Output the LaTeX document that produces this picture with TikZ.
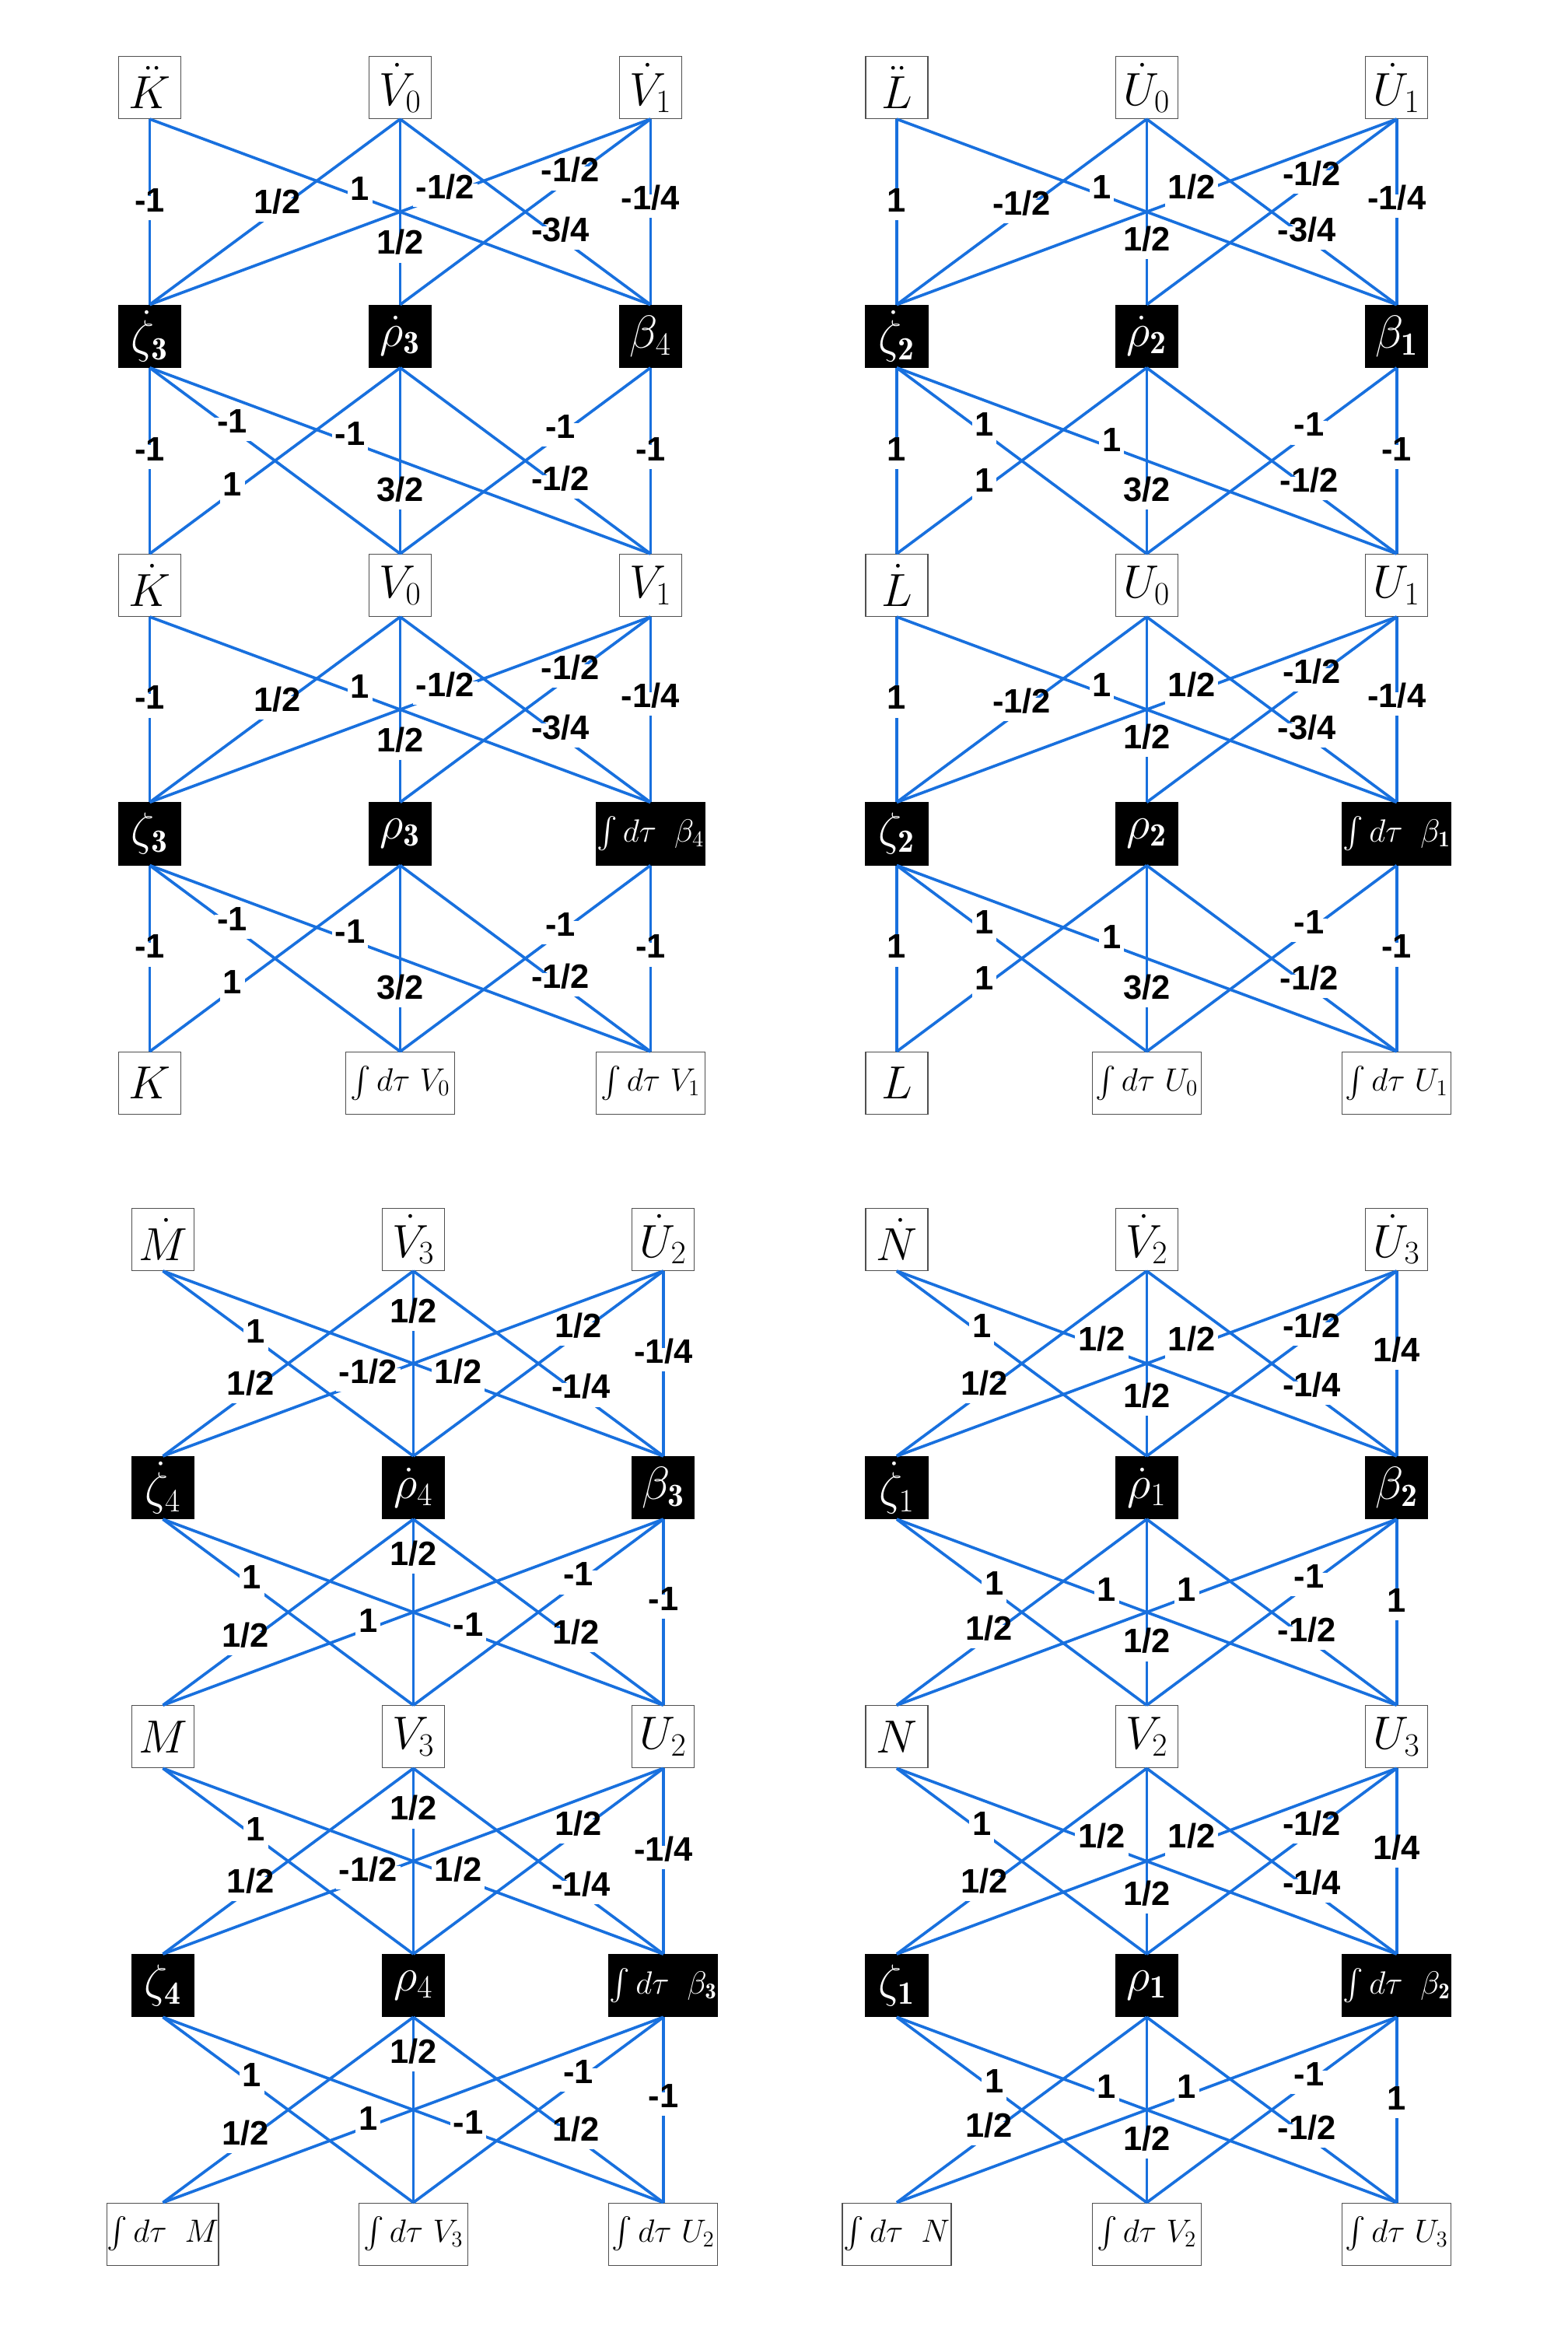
\RequirePackage{fix-cm}
\documentclass[tikz,border=0pt]{standalone}
\usepackage{exscale}
\usepackage{fontspec}
\setsansfont{Liberation Sans}
\pgfdeclarelayer{fg}
\pgfsetlayers{main,fg}
\definecolor{edgeblue}{RGB}{24,112,222}
\definecolor{boxgray}{RGB}{80,80,80}
\tikzset{
 wb/.style={draw=boxgray, line width=0.6pt, fill=white, minimum width=41.6pt, minimum height=41.6pt, inner sep=0pt, font=\fontsize{31}{31}\selectfont},
 bb/.style={wb, draw=black, fill=black, text=white},
 wide/.style={minimum width=72.8pt, font=\fontsize{21.5}{21.5}\selectfont},
 edge/.style={draw=edgeblue, line width=1.9pt},
 lbl/.style={fill=white, font=\sffamily\bfseries\fontsize{22.6}{26}\selectfont, inner xsep=2pt, inner ysep=3pt, text height=0.72em, text depth=0.25em},
}
\newcommand\setlay[2]{\def\eU{#1}\def\eL{#2}}
\newcommand\ed[4]{\draw[edge] (\eU#1.south) -- (\eL#2.north);
 \begin{pgfonlayer}{fg}\path (\eU#1.south) -- (\eL#2.north) node[lbl,pos=#3]{#4};\end{pgfonlayer}}
\newcommand\myint{\int d\tau}
\newcommand\gap{\;\;}
% panel 1
\newcommand\PoneX{\ed11{.48}{-1}\ed13{.42}{1}\ed21{.49}{1/2}\ed22{.71}{1/2}\ed23{.64}{-3/4}\ed31{.41}{-1/2}\ed32{.32}{-1/2}\ed33{.47}{-1/4}}
\newcommand\PoneY{\ed11{.48}{-1}\ed12{.33}{-1}\ed13{.40}{-1}\ed21{.67}{1}\ed22{.70}{3/2}\ed23{.64}{-1/2}\ed32{.36}{-1}\ed33{.48}{-1}}
% panel 2
\newcommand\PtwoX{\ed11{.48}{1}\ed13{.41}{1}\ed21{.50}{-1/2}\ed22{.69}{1/2}\ed23{.64}{-3/4}\ed31{.41}{1/2}\ed32{.34}{-1/2}\ed33{.47}{-1/4}}
\newcommand\PtwoY{\ed11{.48}{1}\ed12{.35}{1}\ed13{.43}{1}\ed21{.65}{1}\ed22{.70}{3/2}\ed23{.65}{-1/2}\ed32{.35}{-1}\ed33{.48}{-1}}
% panel 3
\newcommand\PthreeX{\ed12{.37}{1}\ed13{.59}{1/2}\ed21{.65}{1/2}\ed22{.26}{1/2}\ed23{.67}{-1/4}\ed31{.59}{-1/2}\ed32{.34}{1/2}\ed33{.48}{-1/4}}
\newcommand\PthreeY{\ed12{.355}{1}\ed13{.61}{-1}\ed21{.67}{1/2}\ed22{.23}{1/2}\ed23{.65}{1/2}\ed31{.59}{1}\ed32{.34}{-1}\ed33{.47}{-1}}
% panel 4
\newcommand\PfourX{\ed12{.34}{1}\ed13{.41}{1/2}\ed21{.65}{1/2}\ed22{.72}{1/2}\ed23{.66}{-1/4}\ed31{.41}{1/2}\ed32{.34}{-1/2}\ed33{.47}{1/4}}
\newcommand\PfourY{\ed12{.39}{1}\ed13{.42}{1}\ed21{.63}{1/2}\ed22{.70}{1/2}\ed23{.64}{-1/2}\ed31{.42}{1}\ed32{.35}{-1}\ed33{.48}{1}}
\begin{document}
\begin{tikzpicture}[x=1pt,y=-1pt]
\fill[white] (0,0) rectangle (1048,1568);
\useasboundingbox (0,0) rectangle (1048,1568);
% ---------- panel 1
\node[wb] (p1A1) at (100.1,58.5) {$\ddot K$};
\node[wb] (p1A2) at (267.5,58.5) {$\dot V_0$};
\node[wb] (p1A3) at (434.8,58.5) {$\dot V_1$};
\node[bb] (p1B1) at (100.1,224.7) {$\dot\zeta_{\mathbf 3}$};
\node[bb] (p1B2) at (267.5,224.7) {$\dot\rho_{\mathbf 3}$};
\node[bb] (p1B3) at (434.8,224.7) {$\beta_4$};
\node[wb] (p1C1) at (100.1,391.2) {$\dot K$};
\node[wb] (p1C2) at (267.5,391.2) {$V_0$};
\node[wb] (p1C3) at (434.8,391.2) {$V_1$};
\node[bb] (p1D1) at (100.1,557.3) {$\zeta_{\mathbf 3}$};
\node[bb] (p1D2) at (267.5,557.3) {$\rho_{\mathbf 3}$};
\node[bb,wide] (p1D3) at (434.8,557.3) {$\myint\gap\beta_4$};
\node[wb] (p1E1) at (100.1,723.9) {$K$};
\node[wb,wide] (p1E2) at (267.5,723.9) {$\myint\ V_0$};
\node[wb,wide] (p1E3) at (434.8,723.9) {$\myint\ V_1$};
% ---------- panel 2
\node[wb] (p2A1) at (599.4,58.5) {$\ddot L$};
\node[wb] (p2A2) at (766.5,58.5) {$\dot U_0$};
\node[wb] (p2A3) at (933.6,58.5) {$\dot U_1$};
\node[bb] (p2B1) at (599.4,224.7) {$\dot\zeta_{\mathbf 2}$};
\node[bb] (p2B2) at (766.5,224.7) {$\dot\rho_{\mathbf 2}$};
\node[bb] (p2B3) at (933.6,224.7) {$\beta_{\mathbf 1}$};
\node[wb] (p2C1) at (599.4,391.2) {$\dot L$};
\node[wb] (p2C2) at (766.5,391.2) {$U_0$};
\node[wb] (p2C3) at (933.6,391.2) {$U_1$};
\node[bb] (p2D1) at (599.4,557.3) {$\zeta_{\mathbf 2}$};
\node[bb] (p2D2) at (766.5,557.3) {$\rho_{\mathbf 2}$};
\node[bb,wide] (p2D3) at (933.6,557.3) {$\myint\gap\beta_{\mathbf 1}$};
\node[wb] (p2E1) at (599.4,723.9) {$L$};
\node[wb,wide] (p2E2) at (766.5,723.9) {$\myint\ U_0$};
\node[wb,wide] (p2E3) at (933.6,723.9) {$\myint\ U_1$};
% ---------- panel 3
\node[wb] (p3A1) at (108.9,828.4) {$\dot M$};
\node[wb] (p3A2) at (276.3,828.4) {$\dot V_3$};
\node[wb] (p3A3) at (443.4,828.4) {$\dot U_2$};
\node[bb] (p3B1) at (108.9,994.3) {$\dot\zeta_4$};
\node[bb] (p3B2) at (276.3,994.3) {$\dot\rho_4$};
\node[bb] (p3B3) at (443.4,994.3) {$\beta_{\mathbf 3}$};
\node[wb] (p3C1) at (108.9,1160.8) {$M$};
\node[wb] (p3C2) at (276.3,1160.8) {$V_3$};
\node[wb] (p3C3) at (443.4,1160.8) {$U_2$};
\node[bb] (p3D1) at (108.9,1327.1) {$\zeta_{\mathbf 4}$};
\node[bb] (p3D2) at (276.3,1327.1) {$\rho_4$};
\node[bb,wide] (p3D3) at (443.4,1327.1) {$\myint\gap\beta_{\mathbf 3}$};
\node[wb,wide] (p3E1) at (108.9,1493.2) {$\myint\gap M$};
\node[wb,wide] (p3E2) at (276.3,1493.2) {$\myint\ V_3$};
\node[wb,wide] (p3E3) at (443.4,1493.2) {$\myint\ U_2$};
% ---------- panel 4
\node[wb] (p4A1) at (599.4,828.4) {$\dot N$};
\node[wb] (p4A2) at (766.5,828.4) {$\dot V_2$};
\node[wb] (p4A3) at (933.6,828.4) {$\dot U_3$};
\node[bb] (p4B1) at (599.4,994.3) {$\dot\zeta_1$};
\node[bb] (p4B2) at (766.5,994.3) {$\dot\rho_1$};
\node[bb] (p4B3) at (933.6,994.3) {$\beta_{\mathbf 2}$};
\node[wb] (p4C1) at (599.4,1160.8) {$N$};
\node[wb] (p4C2) at (766.5,1160.8) {$V_2$};
\node[wb] (p4C3) at (933.6,1160.8) {$U_3$};
\node[bb] (p4D1) at (599.4,1327.1) {$\zeta_{\mathbf 1}$};
\node[bb] (p4D2) at (766.5,1327.1) {$\rho_{\mathbf 1}$};
\node[bb,wide] (p4D3) at (933.6,1327.1) {$\myint\gap\beta_{\mathbf 2}$};
\node[wb,wide] (p4E1) at (599.4,1493.2) {$\myint\gap N$};
\node[wb,wide] (p4E2) at (766.5,1493.2) {$\myint\ V_2$};
\node[wb,wide] (p4E3) at (933.6,1493.2) {$\myint\ U_3$};
% ---------- edges
\setlay{p1A}{p1B}\PoneX
\setlay{p1B}{p1C}\PoneY
\setlay{p1C}{p1D}\PoneX
\setlay{p1D}{p1E}\PoneY
\setlay{p2A}{p2B}\PtwoX
\setlay{p2B}{p2C}\PtwoY
\setlay{p2C}{p2D}\PtwoX
\setlay{p2D}{p2E}\PtwoY
\setlay{p3A}{p3B}\PthreeX
\setlay{p3B}{p3C}\PthreeY
\setlay{p3C}{p3D}\PthreeX
\setlay{p3D}{p3E}\PthreeY
\setlay{p4A}{p4B}\PfourX
\setlay{p4B}{p4C}\PfourY
\setlay{p4C}{p4D}\PfourX
\setlay{p4D}{p4E}\PfourY
\end{tikzpicture}
\end{document}
